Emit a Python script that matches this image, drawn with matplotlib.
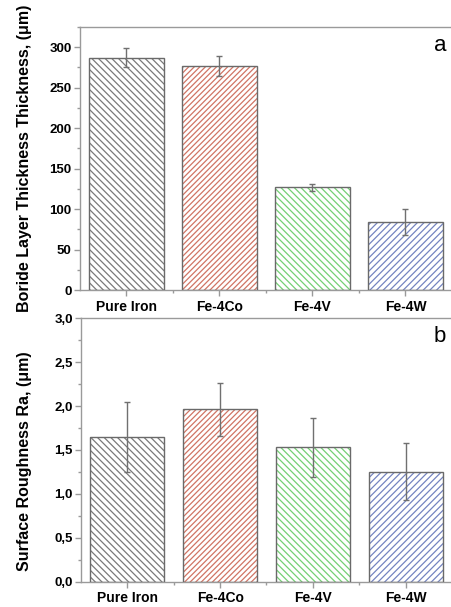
import matplotlib
matplotlib.use("Agg")
import matplotlib.pyplot as plt
import numpy as np
from matplotlib.ticker import MultipleLocator, FixedLocator, FuncFormatter

categories = ["Pure Iron", "Fe-4Co", "Fe-4V", "Fe-4W"]
thickness = [287, 277, 127, 84]
thickness_err = [12, 12.5, 4.5, 16]
roughness = [1.645, 1.965, 1.53, 1.255]
roughness_err = [0.40, 0.30, 0.34, 0.32]

hatch_colors = ["#7a7a7a", "#d07464", "#74d074", "#7484c0"]
hatches = ["\\" * 5, "/" * 6, "\\" * 5, "/" * 5]

plt.rcParams['font.family'] = ['Liberation Sans', 'DejaVu Sans']
plt.rcParams['hatch.linewidth'] = 0.9

fig = plt.figure(figsize=(4.52, 6.07), dpi=100)
ax1 = fig.add_axes([80/452, 1-290/607, 372/452, (290-27)/607])
ax2 = fig.add_axes([81/452, 1-581.7/607, 371/452, (581.7-318.3)/607])

x = np.arange(1, len(categories) + 1)
spine_col = "#9a9a9a"

def draw(ax, vals, errs, ylim, major, minor, fmt, ylabel, letter, label_y):
    for i in range(len(categories)):
        ax.bar(x[i], vals[i], width=0.8, facecolor="white", edgecolor=hatch_colors[i],
               hatch=hatches[i], linewidth=0, zorder=2)
        ax.bar(x[i], vals[i], width=0.8, facecolor="none", edgecolor="#6a6a6a",
               linewidth=1.0, zorder=3)
    ax.errorbar(x, vals, yerr=errs, fmt="none", ecolor="#707070", elinewidth=1.0,
                capsize=2.5, capthick=1.0, zorder=4)
    ax.set_xlim(0.5, 4.5)
    ax.set_ylim(*ylim)
    ax.yaxis.set_major_locator(MultipleLocator(major))
    ax.yaxis.set_minor_locator(MultipleLocator(minor))
    ax.yaxis.set_major_formatter(FuncFormatter(fmt))
    ax.set_xticks(x)
    ax.set_xticklabels(categories, fontsize=10, fontweight="bold")
    ax.xaxis.set_minor_locator(FixedLocator([1.5, 2.5, 3.5]))
    for lbl in ax.get_yticklabels():
        lbl.set_fontweight("bold")
        lbl.set_fontsize(9.5)
    ax.tick_params(axis="both", which="major", direction="out", length=4, width=1,
                   color=spine_col, pad=2)
    ax.tick_params(axis="both", which="minor", direction="out", length=2.5, width=1,
                   color=spine_col)
    ax.tick_params(axis="x", which="major", pad=3)
    for s in ["left", "bottom", "top"]:
        ax.spines[s].set_color(spine_col)
        ax.spines[s].set_linewidth(1.0)
    ax.spines["right"].set_visible(False)
    ax.set_ylabel(ylabel, fontsize=11.5, fontweight="bold", va="center")
    pos = ax.get_position()
    ax.yaxis.set_label_coords(-(pos.x0 * 452 - 25) / (pos.width * 452), label_y)
    ax.text(0.985, 0.93, letter, transform=ax.transAxes, fontsize=16,
            ha="right", va="center")

draw(ax1, thickness, thickness_err, (0, 325), 50, 25,
     lambda v, p: f"{v:.0f}", "Boride Layer Thickness Thickness, (\u03bcm)", "a", 0.5)
draw(ax2, roughness, roughness_err, (0, 3.0), 0.5, 0.25,
     lambda v, p: f"{v:.1f}".replace(".", ","), "Surface Roughness Ra, (\u03bcm)", "b", 0.456)

fig.savefig("out.png", dpi=100, facecolor="white")
